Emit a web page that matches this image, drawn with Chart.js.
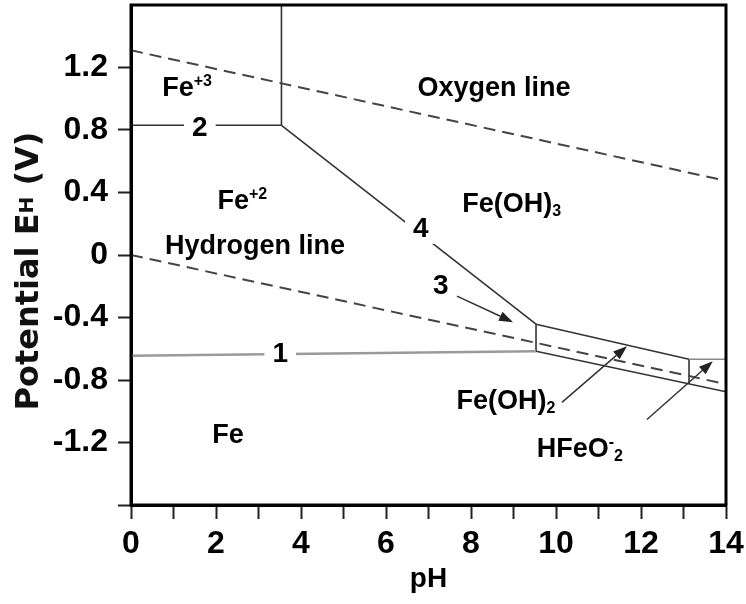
<!DOCTYPE html>
<html>
<head>
<meta charset="utf-8">
<script src="https://cdn.jsdelivr.net/npm/chart.js@4/dist/chart.umd.min.js"></script>
<style>
  html, body { margin: 0; padding: 0; background: #fff; }
  canvas { display: block; }
</style>
</head>
<body>
<canvas id="c" width="746" height="604"></canvas>
<script>
// ---------- Data (pH, potential E_H in V) ----------
const hydrogenPH = [0, 14];
const hydrogenE  = [0.0, -0.826];
const oxygenPH   = [0, 14];
const oxygenE    = [1.31, 0.475];

const line1PH = [0, 9.53];      const line1E = [-0.645, -0.616];   // Fe / Fe+2
const line2PH = [0, 3.54];      const line2E = [0.83, 0.83];       // Fe+3 / Fe+2
const fe3VertPH = [3.54, 3.54]; const fe3VertE = [0.83, 1.6];      // Fe+3 / Fe(OH)3
const line4PH = [3.54, 9.53];   const line4E = [0.83, -0.443];     // Fe+2 / Fe(OH)3
const vert95PH = [9.53, 9.53];  const vert95E = [-0.443, -0.616];  // Fe+2 / Fe(OH)2
const ohUpperPH = [9.53, 13.13]; const ohUpperE = [-0.443, -0.667]; // Fe(OH)3 / Fe(OH)2
const hfeoTopPH = [13.13, 14];  const hfeoTopE = [-0.667, -0.667]; // Fe(OH)3 / HFeO2-
const ohLowerPH = [9.53, 14];   const ohLowerE = [-0.616, -0.875]; // Fe(OH)2, HFeO2- / Fe
const vert13PH = [13.13, 13.13]; const vert13E = [-0.667, -0.826]; // Fe(OH)2 / HFeO2-

// tick labels
const xTickValues = [0, 2, 4, 6, 8, 10, 12, 14];
const xTickLabels = ['0', '2', '4', '6', '8', '10', '12', '14'];
const yTickValues = [-1.2, -0.8, -0.4, 0, 0.4, 0.8, 1.2];
const yTickLabels = ['-1.2', '-0.8', '-0.4', '0', '0.4', '0.8', '1.2'];

// region / line labels (baseline positions in data units)
const labelMain = ['Fe', 'Fe', 'Hydrogen line', 'Oxygen line', 'Fe(OH)', '4', '3', '1', '2', 'Fe(OH)', 'HFeO', 'Fe'];
const labelSup  = ['+3', '+2', '', '', '', '', '', '', '', '', '-', ''];
const labelSub  = ['', '', '', '', '3', '', '', '', '', '2', '2', ''];
const labelPH   = [1.32, 2.62, 2.92, 8.54, 8.96, 6.82, 7.29, 3.51, 1.62, 8.82, 10.56, 2.28];
const labelE    = [1.02, 0.295, 0.006, 1.02, 0.276, 0.116, -0.25, -0.687, 0.764, -0.988, -1.29, -1.2];
const labelBox  = [false, false, false, false, false, true, false, true, true, false, false, false];

// arrows (from -> to, data units)
const arrowFromPH = [7.67, 10.14, 12.14];
const arrowFromE  = [-0.263, -0.943, -1.053];
const arrowToPH   = [8.99, 11.67, 13.69];
const arrowToE    = [-0.43, -0.584, -0.68];

// ---------- helpers ----------
function pts(xs, ys) { return xs.map((x, i) => ({ x: x, y: ys[i] })); }
function seg(xs, ys, color, width, dash) {
  return {
    data: pts(xs, ys), showLine: true, pointRadius: 0, pointHoverRadius: 0,
    borderColor: color, borderWidth: width, borderDash: dash || [], fill: false,
    tension: 0, borderCapStyle: 'butt'
  };
}
const SANS = '"Liberation Sans", Arial, sans-serif';
const DARK = '#333';

const datasets = [
  seg(hydrogenPH, hydrogenE, '#444', 2, [12, 7]),
  seg(oxygenPH, oxygenE, '#444', 2, [12, 7]),
  seg(line1PH, line1E, '#9a9a9a', 2.5),
  seg(line2PH, line2E, DARK, 1.6),
  seg(fe3VertPH, fe3VertE, DARK, 1.6),
  seg(line4PH, line4E, DARK, 1.6),
  seg(vert95PH, vert95E, DARK, 1.6),
  seg(ohUpperPH, ohUpperE, DARK, 1.6),
  seg(hfeoTopPH, hfeoTopE, '#8a8a8a', 1.6),
  seg(ohLowerPH, ohLowerE, DARK, 1.6),
  seg(vert13PH, vert13E, DARK, 1.6)
];

function near(a, b) { return Math.abs(a - b) < 1e-6; }

const annotPlugin = {
  id: 'annot',
  afterDatasetsDraw(chart) {
    const ctx = chart.ctx;
    const xs = chart.scales.x, ys = chart.scales.y;
    ctx.save();
    // arrows
    ctx.strokeStyle = '#333'; ctx.fillStyle = '#222'; ctx.lineWidth = 1.5;
    for (let i = 0; i < arrowFromPH.length; i++) {
      const x1 = xs.getPixelForValue(arrowFromPH[i]), y1 = ys.getPixelForValue(arrowFromE[i]);
      const x2 = xs.getPixelForValue(arrowToPH[i]), y2 = ys.getPixelForValue(arrowToE[i]);
      const ang = Math.atan2(y2 - y1, x2 - x1);
      const hl = 14, hw = 5;
      const bx = x2 - hl * Math.cos(ang), by = y2 - hl * Math.sin(ang);
      ctx.beginPath(); ctx.moveTo(x1, y1); ctx.lineTo(bx, by); ctx.stroke();
      ctx.beginPath();
      ctx.moveTo(x2, y2);
      ctx.lineTo(bx + hw * Math.sin(ang), by - hw * Math.cos(ang));
      ctx.lineTo(bx - hw * Math.sin(ang), by + hw * Math.cos(ang));
      ctx.closePath(); ctx.fill();
    }
    // labels
    ctx.textBaseline = 'alphabetic'; ctx.textAlign = 'left';
    for (let i = 0; i < labelMain.length; i++) {
      const isNum = labelBox[i] || /^[0-9]$/.test(labelMain[i]);
      const mainSize = isNum ? 28 : 27;
      const parts = [{ t: labelMain[i], s: mainSize, dy: 0 }];
      if (labelSup[i]) parts.push({ t: labelSup[i], s: 16, dy: -10 });
      if (labelSub[i]) parts.push({ t: labelSub[i], s: 16, dy: 4 });
      let w = 0;
      parts.forEach(p => { ctx.font = 'bold ' + p.s + 'px ' + SANS; p.w = ctx.measureText(p.t).width; w += p.w; });
      const cx = xs.getPixelForValue(labelPH[i]);
      const by = ys.getPixelForValue(labelE[i]);
      if (labelBox[i]) {
        ctx.fillStyle = '#fff';
        ctx.fillRect(cx - w / 2 - 8, by - 27, w + 16, 34);
      }
      ctx.fillStyle = '#000';
      let x = cx - w / 2;
      parts.forEach(p => { ctx.font = 'bold ' + p.s + 'px ' + SANS; ctx.fillText(p.t, x, by + p.dy); x += p.w; });
    }
    ctx.restore();
  },
  afterDraw(chart) {
    const ctx = chart.ctx;
    const a = chart.chartArea;
    ctx.save();
    // frame
    ctx.strokeStyle = '#000'; ctx.lineWidth = 3;
    ctx.strokeRect(a.left, a.top, a.right - a.left, a.bottom - a.top);
    // y-axis title (rotated) with subscript H
    const parts = [
      { t: 'Potential E', s: 32, dy: 0 },
      { t: 'H', s: 20, dy: -5 },
      { t: ' (V)', s: 32, dy: 0 }
    ];
    const fam = '"DejaVu Sans", Verdana, sans-serif';
    let w = 0;
    parts.forEach(p => { ctx.font = 'bold ' + p.s + 'px ' + fam; p.w = ctx.measureText(p.t).width; w += p.w; });
    ctx.translate(38, 271);
    ctx.rotate(-Math.PI / 2);
    ctx.fillStyle = '#111'; ctx.textBaseline = 'alphabetic'; ctx.textAlign = 'left';
    let x = -w / 2;
    parts.forEach(p => { ctx.font = 'bold ' + p.s + 'px ' + fam; ctx.fillText(p.t, x, p.dy); x += p.w; });
    ctx.restore();
  }
};

new Chart(document.getElementById('c'), {
  type: 'scatter',
  data: { datasets: datasets },
  options: {
    responsive: false,
    animation: false,
    devicePixelRatio: 1,
    layout: { padding: { top: 5, right: 20, left: 0, bottom: 0 } },
    plugins: { legend: { display: false }, tooltip: { enabled: false } },
    scales: {
      x: {
        type: 'linear', position: 'bottom', min: 0, max: 14,
        ticks: {
          stepSize: 1, autoSkip: false, maxRotation: 0, padding: 6, color: '#000',
          font: { family: SANS, size: 32, weight: 'bold' },
          callback: (v) => { const i = xTickValues.findIndex(t => near(t, v)); return i >= 0 ? xTickLabels[i] : ''; }
        },
        grid: { drawOnChartArea: false, drawTicks: true, tickLength: 14, tickWidth: 2, tickColor: '#222' },
        border: { display: true, width: 3, color: '#000' },
        title: { display: true, text: 'pH', color: '#000', font: { family: SANS, size: 28, weight: 'bold' }, padding: { top: 0, bottom: 8 } },
        afterFit: (s) => { s.height = 99; s.paddingLeft = 0; s.paddingRight = 0; }
      },
      y: {
        type: 'linear', position: 'left', min: -1.6, max: 1.6,
        ticks: {
          stepSize: 0.4, autoSkip: false, padding: 10, color: '#000',
          font: { family: SANS, size: 32, weight: 'bold' },
          callback: (v) => { const i = yTickValues.findIndex(t => near(t, v)); return i >= 0 ? yTickLabels[i] : ''; }
        },
        grid: {
          drawOnChartArea: false, drawTicks: true, tickLength: 13, tickWidth: 2,
          tickColor: (c) => (c.tick && near(c.tick.value, 1.6)) ? 'rgba(0,0,0,0)' : '#222'
        },
        border: { display: true, width: 3, color: '#000' },
        afterFit: (s) => { s.width = 131; s.paddingTop = 0; s.paddingBottom = 0; }
      }
    }
  },
  plugins: [annotPlugin]
});
</script>
</body>
</html>
